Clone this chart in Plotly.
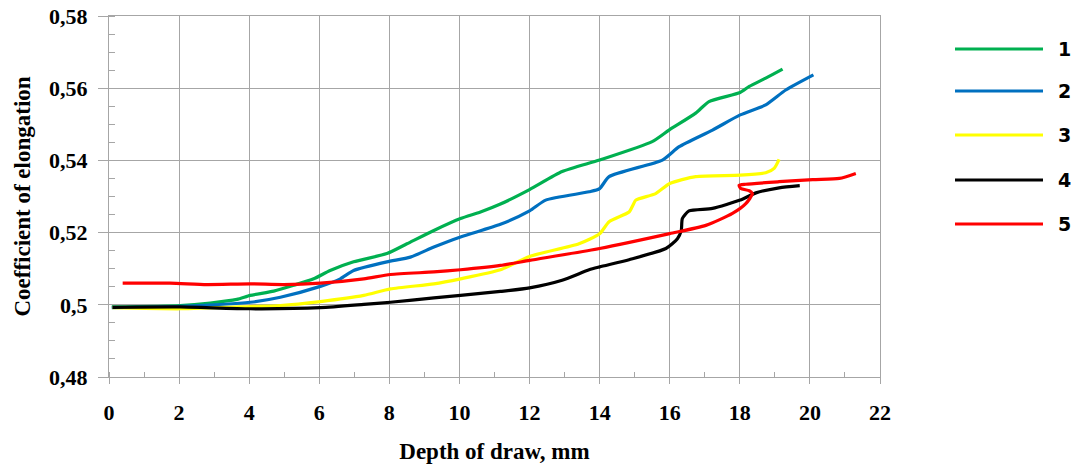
import plotly.graph_objects as go

# Depth of draw (mm) and coefficient of elongation for five curves
x1 = [0.08, 2.03, 2.89, 3.65, 4.03, 4.70, 5.27, 5.84, 6.31, 6.98, 7.93, 8.50, 9.27, 10.03, 10.6,
      11.17, 12.0, 12.93, 14.0, 15.5, 15.98, 16.74, 17.12, 18.01, 18.27, 18.74, 19.22]
y1 = [0.4994, 0.4998, 0.5005, 0.5015, 0.5026, 0.5038, 0.5054, 0.5072, 0.5095, 0.5119, 0.5142,
      0.5169, 0.5206, 0.5239, 0.5257, 0.5279, 0.5319, 0.5369, 0.5401, 0.5452, 0.5484, 0.5531,
      0.5563, 0.5588, 0.5605, 0.5628, 0.5653]

x2 = [0.08, 2.03, 4.03, 4.89, 6.03, 6.6, 6.98, 7.93, 8.6, 9.27, 10.03, 11.17, 12.0, 12.46, 13.7,
      14.0, 14.27, 15.79, 16.27, 17.22, 18.01, 18.74, 19.31, 20.1]
y2 = [0.4992, 0.4996, 0.5007, 0.5021, 0.5051, 0.5072, 0.5095, 0.5119, 0.5132, 0.5160, 0.5188,
      0.5223, 0.5260, 0.5290, 0.5313, 0.5322, 0.5355, 0.5401, 0.5438, 0.5484, 0.5526, 0.5554,
      0.5595, 0.5637]

x3 = [0.1, 2.03, 4.03, 4.89, 6.03, 7.27, 8.03, 9.27, 10.03, 11.17, 12.0, 13.41, 14.0, 14.27,
      14.84, 14.95, 15.03, 15.6, 16.0, 16.74, 18.01, 18.74, 18.98, 19.12]
y3 = [0.4992, 0.4989, 0.4995, 0.4998, 0.5009, 0.5026, 0.5044, 0.5058, 0.5072, 0.5097, 0.5134,
      0.5169, 0.5197, 0.5230, 0.5257, 0.5276, 0.5290, 0.5308, 0.5336, 0.5355, 0.5359, 0.5366,
      0.5378, 0.5403]

x4 = [0.1, 2.03, 4.03, 6.03, 7.27, 8.03, 9.27, 10.03, 11.17, 12.0, 12.93, 13.7, 14.0, 14.84,
      15.89, 16.22, 16.33, 16.36, 16.55, 17.22, 18.01, 18.46, 19.12, 19.71]
y4 = [0.4993, 0.4994, 0.4989, 0.4992, 0.5001, 0.5007, 0.5019, 0.5026, 0.5037, 0.5047, 0.5068,
      0.5097, 0.5105, 0.5125, 0.5156, 0.5183, 0.5206, 0.5239, 0.5260, 0.5267, 0.5290, 0.5310,
      0.5324, 0.5330]

x5 = [0.39, 1.74, 2.79, 4.03, 4.98, 6.03, 7.27, 8.03, 9.27, 10.03, 11.17, 12.0, 14.0, 16.0,
      17.03, 17.79, 18.17, 18.36, 18.27, 18.03, 17.98, 18.17, 19.12, 20.08, 20.84, 21.31]
y5 = [0.5060, 0.5060, 0.5056, 0.5058, 0.5056, 0.5060, 0.5072, 0.5084, 0.5091, 0.5097, 0.5109,
      0.5123, 0.5156, 0.5197, 0.5220, 0.5253, 0.5280, 0.5308, 0.5316, 0.5322, 0.5331, 0.5334,
      0.5341, 0.5347, 0.5350, 0.5364]

names = ["1", "2", "3", "4", "5"]
colors = ["#00b050", "#0070c0", "#ffff00", "#000000", "#ff0000"]
series = [(x1, y1), (x2, y2), (x3, y3), (x4, y4), (x5, y5)]

x_ticks = [0, 2, 4, 6, 8, 10, 12, 14, 16, 18, 20, 22]
y_ticks = [0.48, 0.50, 0.52, 0.54, 0.56, 0.58]
y_tick_text = ["0,48", "0,5", "0,52", "0,54", "0,56", "0,58"]

W, H = 1076, 467
ML, MR, MT, MB = 109, 196, 16, 90

fig = go.Figure()
for (xs, ys), name, col in zip(series, names, colors):
    fig.add_trace(go.Scatter(x=xs, y=ys, mode="lines", name=name,
                             line=dict(color=col, width=3.2, shape="spline", smoothing=0.6),
                             showlegend=False))

serif = "Liberation Serif"
grid = "#a6a6a6"

fig.update_layout(
    width=W, height=H,
    margin=dict(l=ML, r=MR, t=MT, b=MB),
    paper_bgcolor="white", plot_bgcolor="white",
    xaxis=dict(
        range=[0, 22], tickvals=x_ticks, ticktext=[str(v) for v in x_ticks],
        showgrid=True, gridcolor=grid, gridwidth=1,
        showline=True, linecolor=grid, linewidth=1, mirror=True,
        ticks="outside", ticklen=6, tickcolor=grid,
        minor=dict(dtick=1, ticks="inside", ticklen=5, tickcolor=grid, showgrid=False),
        tickfont=dict(family=serif, size=22, color="black", weight="bold"),
        ticklabelstandoff=10,
        zeroline=False,
        title=dict(text="Depth of draw, mm", standoff=18,
                   font=dict(family=serif, size=23, color="black", weight="bold")),
        automargin=False,
    ),
    yaxis=dict(
        range=[0.48, 0.58], tickvals=y_ticks, ticktext=y_tick_text,
        showgrid=True, gridcolor=grid, gridwidth=1,
        showline=True, linecolor=grid, linewidth=1, mirror=True,
        ticks="outside", ticklen=10, tickcolor=grid,
        minor=dict(dtick=0.005, tick0=0.48, ticks="inside", ticklen=6, tickcolor=grid, showgrid=False),
        tickfont=dict(family=serif, size=22, color="black", weight="bold"),
        ticklabelstandoff=6,
        zeroline=False,
        title=dict(text="Coefficient of elongation", standoff=12,
                   font=dict(family=serif, size=23, color="black", weight="bold")),
        automargin=False,
    ),
)

# Legend drawn to the right of the plot area
pw, ph = W - ML - MR, H - MT - MB
def px_x(px):
    return (px - ML) / pw
def px_y(py):
    return 1 - (py - MT) / ph

leg_y = [49, 91, 135, 180, 224]
for name, col, ly in zip(names, colors, leg_y):
    fig.add_shape(type="line", xref="paper", yref="paper",
                  x0=px_x(955), x1=px_x(1043), y0=px_y(ly), y1=px_y(ly),
                  line=dict(color=col, width=3))
    fig.add_annotation(xref="paper", yref="paper", x=px_x(1056), y=px_y(ly),
                       xanchor="left", yanchor="middle", text=name, showarrow=False,
                       font=dict(family="DejaVu Sans", size=19, color="black", weight="bold"))

fig.write_html("out.html")
